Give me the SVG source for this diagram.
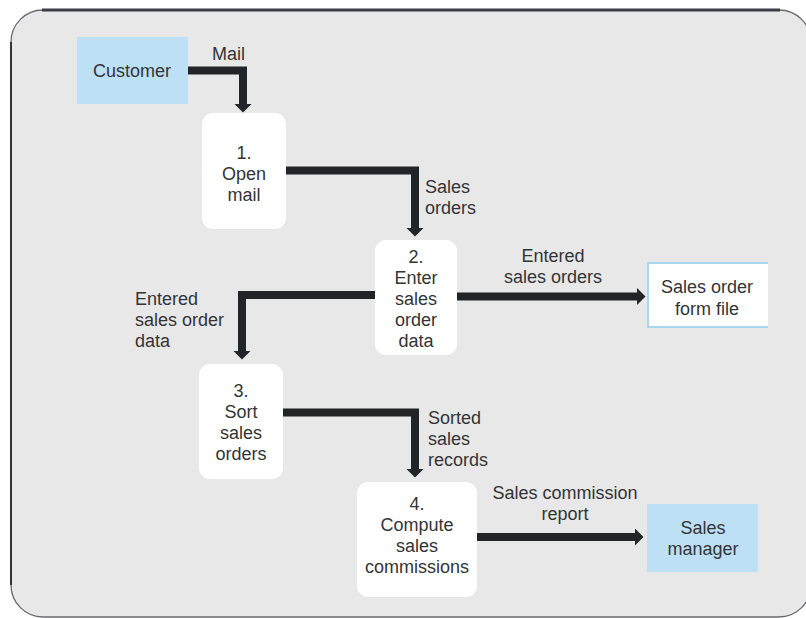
<svg xmlns="http://www.w3.org/2000/svg" width="806" height="618" viewBox="0 0 806 618">
  <defs>
    <style>
      .lbl { font-family: "Liberation Sans", Arial, sans-serif; font-size: 18px; fill: #333436; }
      .mid { text-anchor: middle; }
      .proc { fill: #ffffff; }
      .ext { fill: #bde0f5; }
      .flow { fill: none; stroke: #232428; stroke-width: 8; stroke-linejoin: miter; marker-end: url(#head); }
    </style>
    <marker id="head" markerUnits="userSpaceOnUse" markerWidth="10" markerHeight="18" refX="0.5" refY="9" orient="auto">
      <path d="M0,0 L9,9 L0,18 Z" fill="#232428"/>
    </marker>
  </defs>

  <rect width="806" height="618" fill="#ffffff"/>

  <!-- system boundary -->
  <g id="boundary">
    <rect x="11" y="10" width="800" height="607" rx="32" ry="32" fill="#e8e8e8" stroke="#6a6a6e" stroke-width="1.3"/>
    <line x1="42" y1="10" x2="780" y2="10" stroke="#3a3c46" stroke-width="3"/>
    <line x1="11" y1="42" x2="11" y2="585" stroke="#333336" stroke-width="2"/>
  </g>

  <!-- data flows -->
  <g id="connectors">
    <path class="flow" d="M188,70.5 H243 V104"/>
    <path class="flow" d="M286,170.5 H415 V228"/>
    <path class="flow" d="M375,295 H242 V351"/>
    <path class="flow" d="M457,296.5 H637"/>
    <path class="flow" d="M283,412.5 H415 V469"/>
    <path class="flow" d="M477,537 H635"/>
    <text class="lbl" x="212" y="60">Mail</text>
    <text class="lbl" x="425" y="193">Sales</text>
    <text class="lbl" x="425" y="214">orders</text>
    <text class="lbl mid" x="553" y="262">Entered</text>
    <text class="lbl mid" x="553" y="283">sales orders</text>
    <text class="lbl" x="135" y="305">Entered</text>
    <text class="lbl" x="135" y="326">sales order</text>
    <text class="lbl" x="135" y="347">data</text>
    <text class="lbl" x="428" y="424">Sorted</text>
    <text class="lbl" x="428" y="445">sales</text>
    <text class="lbl" x="428" y="466">records</text>
    <text class="lbl mid" x="565" y="499">Sales commission</text>
    <text class="lbl mid" x="565" y="520">report</text>
  </g>

  <!-- external entities -->
  <g id="customer">
    <rect class="ext" x="77" y="37" width="111" height="67"/>
    <text class="lbl mid" x="132" y="77">Customer</text>
  </g>
  <g id="sales-manager">
    <rect class="ext" x="647" y="504" width="111" height="68"/>
    <text class="lbl mid" x="703" y="534">Sales</text>
    <text class="lbl mid" x="703" y="555">manager</text>
  </g>

  <!-- data store -->
  <g id="sales-order-form-file">
    <rect x="647" y="262" width="121" height="66" fill="#ffffff"/>
    <path d="M768,263 H648 V327 H768" fill="none" stroke="#a9d6f2" stroke-width="2"/>
    <text class="lbl mid" x="707" y="293">Sales order</text>
    <text class="lbl mid" x="707" y="315">form file</text>
  </g>

  <!-- processes -->
  <g id="p1-open-mail">
    <rect class="proc" x="202" y="113" width="84" height="116" rx="11"/>
    <text class="lbl mid" x="244" y="159">1.</text>
    <text class="lbl mid" x="244" y="180">Open</text>
    <text class="lbl mid" x="244" y="201">mail</text>
  </g>
  <g id="p2-enter-sales-order-data">
    <rect class="proc" x="375" y="240" width="82" height="115" rx="11"/>
    <text class="lbl mid" x="416" y="263">2.</text>
    <text class="lbl mid" x="416" y="284">Enter</text>
    <text class="lbl mid" x="416" y="305">sales</text>
    <text class="lbl mid" x="416" y="326">order</text>
    <text class="lbl mid" x="416" y="347">data</text>
  </g>
  <g id="p3-sort-sales-orders">
    <rect class="proc" x="199" y="364" width="84" height="115" rx="11"/>
    <text class="lbl mid" x="241" y="397">3.</text>
    <text class="lbl mid" x="241" y="418">Sort</text>
    <text class="lbl mid" x="241" y="439">sales</text>
    <text class="lbl mid" x="241" y="460">orders</text>
  </g>
  <g id="p4-compute-sales-commissions">
    <rect class="proc" x="357" y="482" width="120" height="115" rx="11"/>
    <text class="lbl mid" x="417" y="510">4.</text>
    <text class="lbl mid" x="417" y="531">Compute</text>
    <text class="lbl mid" x="417" y="552">sales</text>
    <text class="lbl mid" x="417" y="573">commissions</text>
  </g>
</svg>
